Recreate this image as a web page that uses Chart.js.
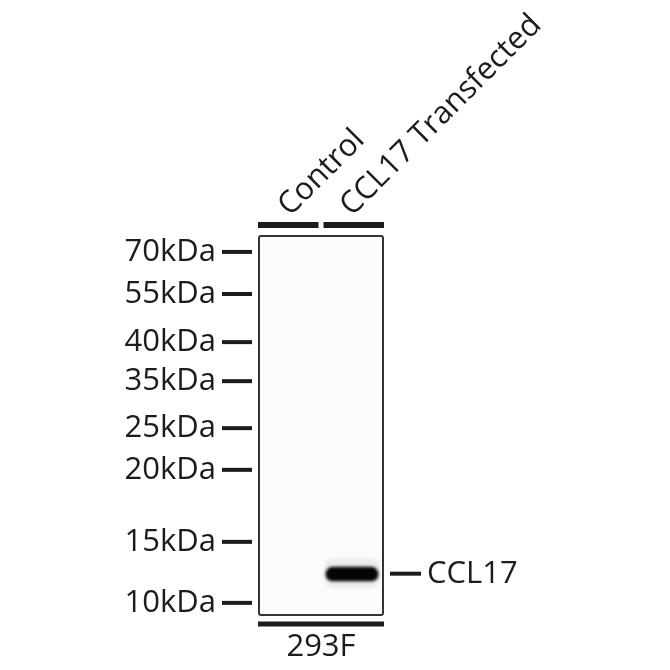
<!DOCTYPE html>
<html>
<head>
<meta charset="utf-8">
<script src="https://cdn.jsdelivr.net/npm/chart.js@4/dist/chart.umd.min.js"></script>
<style>
html,body{margin:0;padding:0;background:#fff;}
#wrap{width:670px;height:670px;position:relative;}
</style>
</head>
<body>
<div id="wrap"><canvas id="c" width="670" height="670"></canvas></div>
<script>
// ---- data read from the blot ----
const lanes = ['Control', 'CCL17 Transfected'];
const markerLabels = ['70kDa', '55kDa', '40kDa', '35kDa', '25kDa', '20kDa', '15kDa', '10kDa'];
// relative migration distance (0 = top of membrane, 100 = bottom)
const markerMigration = [4.2, 15.3, 28.0, 38.3, 50.7, 61.7, 80.7, 96.8];
const bandLabel = 'CCL17';
const bandValues = [null, [87.3, 91.1]]; // per lane, floating band extent
const bandHalo = [null, [85.0, 93.0]];
const bandCenter = 89.1;
const sampleLabel = '293F';

const FONT = "'Open Sans', 'Noto Sans', sans-serif";
const INK = '#1c1c1c';
const FS = 31;

const blurPlugin = {
  id: 'blur',
  beforeDatasetsDraw(chart) {
    const ctx = chart.ctx;
    ctx.save();
    ctx.filter = 'blur(1.7px)';
  },
  afterDatasetsDraw(chart) {
    chart.ctx.restore();
  }
};

const blotPlugin = {
  id: 'blot',
  beforeDraw(chart) {
    const {ctx, chartArea: a} = chart;
    ctx.save();
    ctx.fillStyle = '#fbfbfb';
    ctx.fillRect(a.left, a.top, a.right - a.left, a.bottom - a.top);
    ctx.restore();
  },
  afterDraw(chart) {
    const {ctx, chartArea: a} = chart;
    const y = chart.scales.y, y2 = chart.scales.y2, x = chart.scales.x;
    ctx.save();
    // membrane frame
    ctx.strokeStyle = '#333';
    ctx.lineWidth = 2;
    ctx.beginPath();
    ctx.roundRect(a.left, a.top, a.right - a.left, a.bottom - a.top, 2);
    ctx.stroke();
    ctx.strokeStyle = INK;
    ctx.lineCap = 'butt';
    // marker dashes
    ctx.lineWidth = 4;
    markerMigration.forEach(v => {
      const py = y.getPixelForValue(v);
      ctx.beginPath();
      ctx.moveTo(a.left - 37, py);
      ctx.lineTo(a.left - 7, py);
      ctx.stroke();
    });
    // band pointer
    const by = y2.getPixelForValue(bandCenter);
    ctx.beginPath();
    ctx.moveTo(a.right + 7, by);
    ctx.lineTo(a.right + 38, by);
    ctx.stroke();
    // lane bars
    ctx.lineWidth = 6;
    const w = (a.right - a.left) / lanes.length;
    lanes.forEach((l, i) => {
      const c = x.getPixelForValue(i);
      const x0 = i === 0 ? a.left - 1 : c - w / 2 + 2.5;
      const x1 = i === lanes.length - 1 ? a.right + 1 : c + w / 2 - 2.5;
      ctx.beginPath();
      ctx.moveTo(x0, a.top - 11);
      ctx.lineTo(x1, a.top - 11);
      ctx.stroke();
    });
    // sample bar
    ctx.lineWidth = 5;
    ctx.beginPath();
    ctx.moveTo(a.left - 1, a.bottom + 9);
    ctx.lineTo(a.right + 1, a.bottom + 9);
    ctx.stroke();
    ctx.restore();
  }
};

function noPad(s) { s.paddingTop = 0; s.paddingBottom = 0; s.paddingLeft = 0; s.paddingRight = 0; }

new Chart(document.getElementById('c'), {
  type: 'bar',
  data: {
    labels: lanes,
    datasets: [{
      data: bandHalo,
      backgroundColor: 'rgba(0,0,0,0.06)',
      borderSkipped: false,
      borderRadius: 10,
      grouped: false,
      barPercentage: 0.95,
      categoryPercentage: 0.95,
      order: 2
    }, {
      data: bandValues,
      backgroundColor: '#050505',
      borderSkipped: false,
      borderRadius: 7,
      grouped: false,
      barPercentage: 0.9,
      categoryPercentage: 0.95,
      order: 1
    }]
  },
  options: {
    responsive: false,
    animation: false,
    devicePixelRatio: 1,
    layout: {padding: 0},
    plugins: {legend: {display: false}, tooltip: {enabled: false}},
    scales: {
      x: {
        type: 'category',
        position: 'top',
        grid: {display: false, drawTicks: false},
        border: {display: false},
        ticks: {
          minRotation: 45, maxRotation: 45, autoSkip: false,
          padding: 12,
          labelOffset: 20,
          color: INK,
          font: {family: FONT, size: FS}
        },
        afterFit(s) { s.height = 236; noPad(s); }
      },
      xb: {
        type: 'category',
        position: 'bottom',
        labels: lanes,
        grid: {display: false, drawTicks: false},
        border: {display: false},
        ticks: {display: false},
        title: {display: true, text: sampleLabel, color: INK, font: {family: FONT, size: FS}, padding: {top: 0, bottom: 4}},
        afterFit(s) { s.height = 55; noPad(s); }
      },
      y: {
        type: 'linear',
        position: 'left',
        reverse: true,
        min: 0, max: 100,
        grid: {display: false, drawTicks: false},
        border: {display: false},
        afterBuildTicks(s) { s.ticks = markerMigration.map(v => ({value: v})); },
        ticks: {
          autoSkip: false,
          padding: 43,
          color: INK,
          font: {family: FONT, size: FS},
          callback: (v, i) => markerLabels[i]
        },
        afterFit(s) { s.width = 259; noPad(s); }
      },
      y2: {
        type: 'linear',
        position: 'right',
        reverse: true,
        min: 0, max: 100,
        grid: {display: false, drawTicks: false},
        border: {display: false},
        afterBuildTicks(s) { s.ticks = [{value: bandCenter}]; },
        ticks: {
          autoSkip: false,
          padding: 44,
          color: INK,
          font: {family: FONT, size: FS},
          callback: () => bandLabel
        },
        afterFit(s) { s.width = 287; noPad(s); }
      }
    }
  },
  plugins: [blurPlugin, blotPlugin]
});
</script>
</body>
</html>
